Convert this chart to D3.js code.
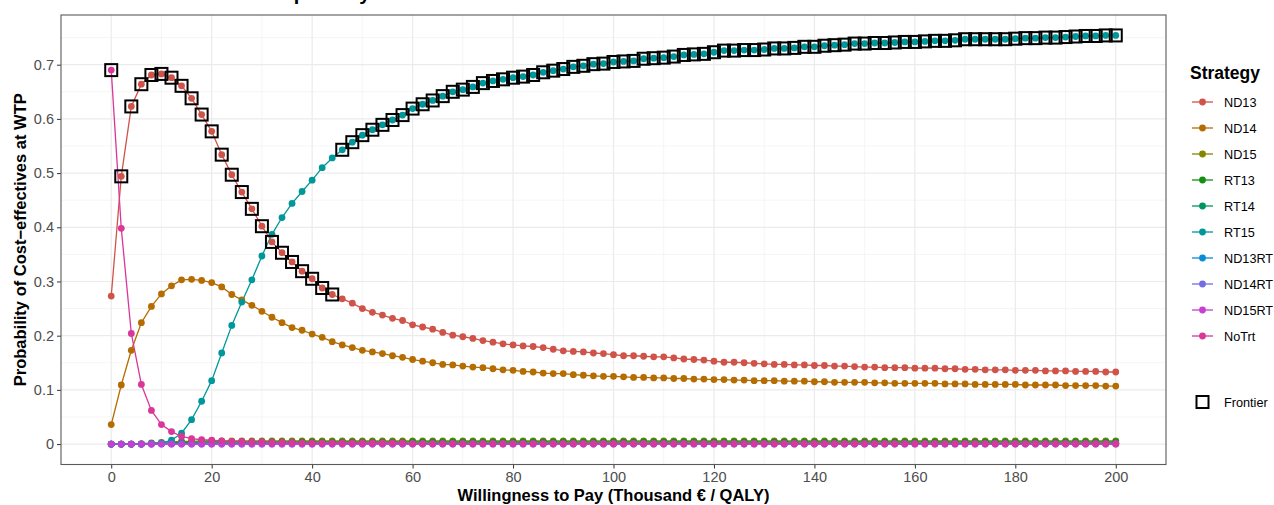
<!DOCTYPE html>
<html>
<head>
<meta charset="utf-8">
<script src="https://cdn.jsdelivr.net/npm/d3@7"></script>
<style>
  body { margin: 0; background: #ffffff; }
  svg { display: block; }
</style>
</head>
<body>
<svg id="chart" width="1274" height="505"></svg>
<script>
// Strategies and their colours
const strategies = ["ND13", "ND14", "ND15", "RT13", "RT14", "RT15", "ND13RT", "ND14RT", "ND15RT", "NoTrt"];
const strategyColors = ["#D0534A", "#B56C00", "#858500", "#13900F", "#00955C", "#00979A", "#0A8BD6", "#736DE4", "#C63FD3", "#D9379A"];

// Willingness-to-pay grid (thousand € / QALY)
const wtp = d3.range(0, 201, 2);

// Probability of being cost-effective at each WTP value
const nd13 = [
  0.273, 0.494, 0.623, 0.664, 0.681, 0.683, 0.676, 0.661, 0.638, 0.608,
  0.577, 0.534, 0.497, 0.465, 0.434, 0.402, 0.373, 0.353, 0.336, 0.319,
  0.305, 0.288, 0.276, 0.268, 0.260, 0.250, 0.243, 0.238, 0.232, 0.228,
  0.220, 0.216, 0.212, 0.206, 0.201, 0.198, 0.195, 0.191, 0.188, 0.185,
  0.183, 0.181, 0.180, 0.178, 0.175, 0.172, 0.171, 0.170, 0.168, 0.167,
  0.165, 0.163, 0.163, 0.162, 0.161, 0.161, 0.159, 0.157, 0.156, 0.155,
  0.153, 0.151, 0.151, 0.150, 0.149, 0.148, 0.147, 0.147, 0.146, 0.146,
  0.145, 0.145, 0.144, 0.144, 0.143, 0.142, 0.142, 0.141, 0.141, 0.141,
  0.140, 0.140, 0.140, 0.139, 0.139, 0.138, 0.138, 0.137, 0.137, 0.137,
  0.136, 0.136, 0.136, 0.135, 0.135, 0.135, 0.134, 0.134, 0.134, 0.133,
  0.133
];
const nd14 = [
  0.036, 0.109, 0.173, 0.224, 0.254, 0.277, 0.292, 0.303, 0.304, 0.302,
  0.298, 0.290, 0.276, 0.266, 0.256, 0.245, 0.234, 0.224, 0.215, 0.210,
  0.203, 0.197, 0.189, 0.183, 0.178, 0.173, 0.170, 0.167, 0.163, 0.160,
  0.156, 0.153, 0.150, 0.147, 0.146, 0.144, 0.142, 0.141, 0.139, 0.137,
  0.136, 0.134, 0.133, 0.131, 0.130, 0.130, 0.128, 0.127, 0.126, 0.125,
  0.125, 0.124, 0.123, 0.123, 0.122, 0.122, 0.121, 0.121, 0.120, 0.120,
  0.119, 0.119, 0.118, 0.118, 0.117, 0.117, 0.117, 0.116, 0.116, 0.116,
  0.115, 0.115, 0.114, 0.114, 0.114, 0.114, 0.113, 0.113, 0.112, 0.112,
  0.112, 0.112, 0.112, 0.111, 0.111, 0.111, 0.110, 0.110, 0.110, 0.110,
  0.110, 0.109, 0.109, 0.109, 0.109, 0.108, 0.108, 0.108, 0.108, 0.107,
  0.107
];
const nd15 = [
  0.000, 0.000, 0.000, 0.001, 0.002, 0.003, 0.004, 0.005, 0.005, 0.006,
  0.006, 0.006, 0.006, 0.006, 0.006, 0.006, 0.006, 0.006, 0.006, 0.006,
  0.006, 0.006, 0.006, 0.006, 0.006, 0.006, 0.006, 0.006, 0.006, 0.006,
  0.006, 0.006, 0.006, 0.006, 0.006, 0.006, 0.006, 0.006, 0.006, 0.006,
  0.006, 0.006, 0.006, 0.006, 0.006, 0.006, 0.006, 0.006, 0.006, 0.006,
  0.006, 0.006, 0.006, 0.006, 0.006, 0.006, 0.006, 0.006, 0.006, 0.006,
  0.006, 0.006, 0.006, 0.006, 0.006, 0.006, 0.006, 0.006, 0.006, 0.006,
  0.006, 0.006, 0.006, 0.006, 0.006, 0.006, 0.006, 0.006, 0.006, 0.006,
  0.006, 0.006, 0.006, 0.006, 0.006, 0.006, 0.006, 0.006, 0.006, 0.006,
  0.006, 0.006, 0.006, 0.006, 0.006, 0.006, 0.006, 0.006, 0.006, 0.006,
  0.006
];
const rt13 = [
  0.000, 0.000, 0.000, 0.000, 0.001, 0.001, 0.002, 0.003, 0.003, 0.004,
  0.004, 0.004, 0.004, 0.004, 0.004, 0.004, 0.004, 0.004, 0.004, 0.004,
  0.004, 0.004, 0.004, 0.004, 0.004, 0.004, 0.004, 0.004, 0.004, 0.004,
  0.004, 0.004, 0.004, 0.004, 0.004, 0.004, 0.004, 0.004, 0.004, 0.004,
  0.004, 0.004, 0.004, 0.004, 0.004, 0.004, 0.004, 0.004, 0.004, 0.004,
  0.004, 0.004, 0.004, 0.004, 0.004, 0.004, 0.004, 0.004, 0.004, 0.004,
  0.004, 0.004, 0.004, 0.004, 0.004, 0.004, 0.004, 0.004, 0.004, 0.004,
  0.004, 0.004, 0.004, 0.004, 0.004, 0.004, 0.004, 0.004, 0.004, 0.004,
  0.004, 0.004, 0.004, 0.004, 0.004, 0.004, 0.004, 0.004, 0.004, 0.004,
  0.004, 0.004, 0.004, 0.004, 0.004, 0.004, 0.004, 0.004, 0.004, 0.004,
  0.004
];
const rt14 = [
  0.000, 0.000, 0.000, 0.000, 0.000, 0.001, 0.001, 0.002, 0.002, 0.002,
  0.002, 0.002, 0.002, 0.002, 0.002, 0.002, 0.002, 0.002, 0.002, 0.002,
  0.002, 0.002, 0.002, 0.002, 0.002, 0.002, 0.002, 0.002, 0.002, 0.002,
  0.002, 0.002, 0.002, 0.002, 0.002, 0.002, 0.002, 0.002, 0.002, 0.002,
  0.002, 0.002, 0.002, 0.002, 0.002, 0.002, 0.002, 0.002, 0.002, 0.002,
  0.002, 0.002, 0.002, 0.002, 0.002, 0.002, 0.002, 0.002, 0.002, 0.002,
  0.002, 0.002, 0.002, 0.002, 0.002, 0.002, 0.002, 0.002, 0.002, 0.002,
  0.002, 0.002, 0.002, 0.002, 0.002, 0.002, 0.002, 0.002, 0.002, 0.002,
  0.002, 0.002, 0.002, 0.002, 0.002, 0.002, 0.002, 0.002, 0.002, 0.002,
  0.002, 0.002, 0.002, 0.002, 0.002, 0.002, 0.002, 0.002, 0.002, 0.002,
  0.002
];
const rt15 = [
  0.000, 0.000, 0.000, 0.000, 0.001, 0.002, 0.007, 0.020, 0.045, 0.079,
  0.117, 0.168, 0.219, 0.262, 0.303, 0.347, 0.387, 0.418, 0.444, 0.466,
  0.487, 0.510, 0.528, 0.543, 0.557, 0.570, 0.580, 0.589, 0.598, 0.607,
  0.619, 0.627, 0.634, 0.642, 0.650, 0.654, 0.659, 0.666, 0.670, 0.673,
  0.676, 0.678, 0.681, 0.686, 0.689, 0.692, 0.696, 0.698, 0.701, 0.702,
  0.705, 0.706, 0.707, 0.711, 0.712, 0.713, 0.715, 0.718, 0.719, 0.720,
  0.723, 0.726, 0.726, 0.727, 0.727, 0.728, 0.730, 0.730, 0.731, 0.733,
  0.733, 0.735, 0.736, 0.737, 0.739, 0.739, 0.740, 0.740, 0.741, 0.742,
  0.742, 0.743, 0.744, 0.744, 0.745, 0.747, 0.747, 0.747, 0.747, 0.747,
  0.748, 0.749, 0.749, 0.750, 0.750, 0.751, 0.752, 0.753, 0.753, 0.754,
  0.754
];
const nd13rt = [
  0.000, 0.000, 0.000, 0.000, 0.001, 0.001, 0.001, 0.001, 0.001, 0.001,
  0.001, 0.001, 0.001, 0.001, 0.001, 0.001, 0.001, 0.001, 0.001, 0.001,
  0.001, 0.001, 0.001, 0.001, 0.001, 0.001, 0.001, 0.001, 0.001, 0.001,
  0.001, 0.001, 0.001, 0.001, 0.001, 0.001, 0.001, 0.001, 0.001, 0.001,
  0.001, 0.001, 0.001, 0.001, 0.001, 0.001, 0.001, 0.001, 0.001, 0.001,
  0.001, 0.001, 0.001, 0.001, 0.001, 0.001, 0.001, 0.001, 0.001, 0.001,
  0.001, 0.001, 0.001, 0.001, 0.001, 0.001, 0.001, 0.001, 0.001, 0.001,
  0.001, 0.001, 0.001, 0.001, 0.001, 0.001, 0.001, 0.001, 0.001, 0.001,
  0.001, 0.001, 0.001, 0.001, 0.001, 0.001, 0.001, 0.001, 0.001, 0.001,
  0.001, 0.001, 0.001, 0.001, 0.001, 0.001, 0.001, 0.001, 0.001, 0.001,
  0.001
];
const nd14rt = [
  0, 0, 0, 0, 0, 0, 0, 0, 0, 0,
  0, 0, 0, 0, 0, 0, 0, 0, 0, 0,
  0, 0, 0, 0, 0, 0, 0, 0, 0, 0,
  0, 0, 0, 0, 0, 0, 0, 0, 0, 0,
  0, 0, 0, 0, 0, 0, 0, 0, 0, 0,
  0, 0, 0, 0, 0, 0, 0, 0, 0, 0,
  0, 0, 0, 0, 0, 0, 0, 0, 0, 0,
  0, 0, 0, 0, 0, 0, 0, 0, 0, 0,
  0, 0, 0, 0, 0, 0, 0, 0, 0, 0,
  0, 0, 0, 0, 0, 0, 0, 0, 0, 0,
  0
];
const nd15rt = [
  0, 0, 0, 0, 0, 0, 0, 0, 0, 0,
  0, 0, 0, 0, 0, 0, 0, 0, 0, 0,
  0, 0, 0, 0, 0, 0, 0, 0, 0, 0,
  0, 0, 0, 0, 0, 0, 0, 0, 0, 0,
  0, 0, 0, 0, 0, 0, 0, 0, 0, 0,
  0, 0, 0, 0, 0, 0, 0, 0, 0, 0,
  0, 0, 0, 0, 0, 0, 0, 0, 0, 0,
  0, 0, 0, 0, 0, 0, 0, 0, 0, 0,
  0, 0, 0, 0, 0, 0, 0, 0, 0, 0,
  0, 0, 0, 0, 0, 0, 0, 0, 0, 0,
  0
];
const noTrt = [
  0.690, 0.398, 0.204, 0.110, 0.062, 0.036, 0.023, 0.014, 0.010, 0.008,
  0.007, 0.006, 0.005, 0.005, 0.004, 0.004, 0.003, 0.003, 0.003, 0.002,
  0.002, 0.002, 0.002, 0.002, 0.002, 0.002, 0.002, 0.002, 0.002, 0.002,
  0.001, 0.001, 0.001, 0.001, 0.001, 0.001, 0.001, 0.001, 0.001, 0.001,
  0.001, 0.001, 0.001, 0.001, 0.001, 0.001, 0.001, 0.001, 0.001, 0.001,
  0.001, 0.001, 0.001, 0.001, 0.001, 0.001, 0.001, 0.001, 0.001, 0.001,
  0.001, 0.001, 0.001, 0.001, 0.001, 0.001, 0.001, 0.001, 0.001, 0.001,
  0.001, 0.001, 0.001, 0.001, 0.001, 0.001, 0.001, 0.001, 0.001, 0.001,
  0.001, 0.001, 0.001, 0.001, 0.001, 0.001, 0.001, 0.001, 0.001, 0.001,
  0.001, 0.001, 0.001, 0.001, 0.001, 0.001, 0.001, 0.001, 0.001, 0.001,
  0.001
];

// Strategy on the cost-effectiveness frontier over WTP ranges
const frontierSegments = [
  { strategy: "NoTrt", from: 0, to: 0 },
  { strategy: "ND13", from: 2, to: 44 },
  { strategy: "RT15", from: 46, to: 200 }
];

// Axis breaks
const xTicks = [0, 20, 40, 60, 80, 100, 120, 140, 160, 180, 200];
const xMinor = [10, 30, 50, 70, 90, 110, 130, 150, 170, 190];
const yTicks = [0, 0.1, 0.2, 0.3, 0.4, 0.5, 0.6, 0.7];
const yMinor = [0.05, 0.15, 0.25, 0.35, 0.45, 0.55, 0.65, 0.75];

const chartTitle = "Cost-Effectiveness Acceptability Curves";
const xTitle = "Willingness to Pay (Thousand € / QALY)";
const yTitle = "Probability of Cost\u2212effectives at WTP";
const legendTitle = "Strategy";

const seriesValues = [nd13, nd14, nd15, rt13, rt14, rt15, nd13rt, nd14rt, nd15rt, noTrt];
const series = strategies.map((name, i) => ({
  name,
  color: strategyColors[i],
  points: wtp.map((w, j) => ({ wtp: w, p: seriesValues[i][j] }))
}));

const frontier = [];
frontierSegments.forEach(seg => {
  const s = series.find(d => d.name === seg.strategy);
  s.points.forEach(pt => { if (pt.wtp >= seg.from && pt.wtp <= seg.to) frontier.push(pt); });
});

// Panel geometry
const panel = { left: 61, right: 1166, top: 15, bottom: 464.5 };
const fontFamily = "'Liberation Sans', Arial, Helvetica, sans-serif";

// ggplot-style 5% expansion of the data range
const xExt = d3.extent(wtp);
const xPad = (xExt[1] - xExt[0]) * 0.05;
const allP = seriesValues.flat();
const yExt = d3.extent(allP);
const yPad = (yExt[1] - yExt[0]) * 0.05;

const x = d3.scaleLinear().domain([xExt[0] - xPad, xExt[1] + xPad]).range([panel.left, panel.right]);
const y = d3.scaleLinear().domain([yExt[0] - yPad, yExt[1] + yPad]).range([panel.bottom, panel.top]);

const svg = d3.select("#chart");

// Title (runs above the top edge; only descenders reach the canvas)
svg.append("text")
  .attr("x", panel.left).attr("y", 0)
  .attr("font-family", fontFamily).attr("font-size", 20).attr("font-weight", "bold")
  .attr("fill", "#000")
  .text(chartTitle);

// Grid
const grid = svg.append("g");
grid.selectAll("line.xminor").data(xMinor).join("line")
  .attr("x1", d => x(d)).attr("x2", d => x(d))
  .attr("y1", panel.top).attr("y2", panel.bottom)
  .attr("stroke", "#F0F0F0").attr("stroke-width", 0.7);
grid.selectAll("line.yminor").data(yMinor).join("line")
  .attr("x1", panel.left).attr("x2", panel.right)
  .attr("y1", d => y(d)).attr("y2", d => y(d))
  .attr("stroke", "#F0F0F0").attr("stroke-width", 0.7);
grid.selectAll("line.xmajor").data(xTicks).join("line")
  .attr("x1", d => x(d)).attr("x2", d => x(d))
  .attr("y1", panel.top).attr("y2", panel.bottom)
  .attr("stroke", "#EBEBEB").attr("stroke-width", 1.2);
grid.selectAll("line.ymajor").data(yTicks).join("line")
  .attr("x1", panel.left).attr("x2", panel.right)
  .attr("y1", d => y(d)).attr("y2", d => y(d))
  .attr("stroke", "#EBEBEB").attr("stroke-width", 1.2);

// Axes
const xAxis = d3.axisBottom(x).tickValues(xTicks).tickSize(4).tickPadding(3).tickFormat(d3.format("d"));
const yAxis = d3.axisLeft(y).tickValues(yTicks).tickSize(4).tickPadding(3).tickFormat(d => d === 0 ? "0" : d3.format(".1f")(d));

const gx = svg.append("g").attr("transform", `translate(0,${panel.bottom})`).call(xAxis);
const gy = svg.append("g").attr("transform", `translate(${panel.left},0)`).call(yAxis);
[gx, gy].forEach(g => {
  g.select(".domain").remove();
  g.selectAll(".tick line").attr("stroke", "#333333").attr("stroke-width", 1);
  g.selectAll(".tick text").attr("fill", "#4D4D4D").attr("font-size", 14.5).attr("font-family", fontFamily);
});

// Lines and points
const line = d3.line().x(d => x(d.wtp)).y(d => y(d.p));
const plot = svg.append("g");
plot.selectAll("path.series").data(series).join("path")
  .attr("fill", "none")
  .attr("stroke", d => d.color)
  .attr("stroke-width", 1.3)
  .attr("d", d => line(d.points));
series.forEach(s => {
  plot.append("g").selectAll("circle").data(s.points).join("circle")
    .attr("cx", d => x(d.wtp)).attr("cy", d => y(d.p))
    .attr("r", 3.4).attr("fill", s.color);
});

// Frontier squares
const sq = 12;
plot.append("g").selectAll("rect").data(frontier).join("rect")
  .attr("x", d => x(d.wtp) - sq / 2).attr("y", d => y(d.p) - sq / 2)
  .attr("width", sq).attr("height", sq)
  .attr("fill", "none").attr("stroke", "#000").attr("stroke-width", 2);

// Panel border
svg.append("rect")
  .attr("x", panel.left).attr("y", panel.top)
  .attr("width", panel.right - panel.left).attr("height", panel.bottom - panel.top)
  .attr("fill", "none").attr("stroke", "#5A5A5A").attr("stroke-width", 1.1);

// Axis titles
svg.append("text")
  .attr("x", (panel.left + panel.right) / 2).attr("y", 501)
  .attr("text-anchor", "middle")
  .attr("font-family", fontFamily).attr("font-size", 16.5).attr("font-weight", "bold")
  .text(xTitle);
svg.append("text")
  .attr("transform", `translate(26,${(panel.top + panel.bottom) / 2}) rotate(-90)`)
  .attr("text-anchor", "middle")
  .attr("font-family", fontFamily).attr("font-size", 16.5).attr("font-weight", "bold")
  .text(yTitle);

// Legend
const legend = svg.append("g").attr("transform", "translate(1190,0)");
legend.append("text")
  .attr("x", 0).attr("y", 79)
  .attr("font-family", fontFamily).attr("font-size", 17.5).attr("font-weight", "bold")
  .text(legendTitle);
const items = legend.selectAll("g.item").data(series).join("g")
  .attr("transform", (d, i) => `translate(0,${102 + i * 26})`);
items.append("line")
  .attr("x1", 2).attr("x2", 23).attr("y1", 0).attr("y2", 0)
  .attr("stroke", d => d.color).attr("stroke-width", 1.3);
items.append("circle").attr("cx", 12.5).attr("cy", 0).attr("r", 3.4).attr("fill", d => d.color);
items.append("text")
  .attr("x", 34).attr("y", 5)
  .attr("font-family", fontFamily).attr("font-size", 12.7).attr("fill", "#000")
  .text(d => d.name);

const fr = legend.append("g").attr("transform", "translate(0,402)");
fr.append("rect").attr("x", 12.5 - 6).attr("y", -6).attr("width", 12).attr("height", 12)
  .attr("fill", "none").attr("stroke", "#000").attr("stroke-width", 2);
fr.append("text")
  .attr("x", 34).attr("y", 5)
  .attr("font-family", fontFamily).attr("font-size", 12.7).attr("fill", "#000")
  .text("Frontier");
</script>
</body>
</html>
